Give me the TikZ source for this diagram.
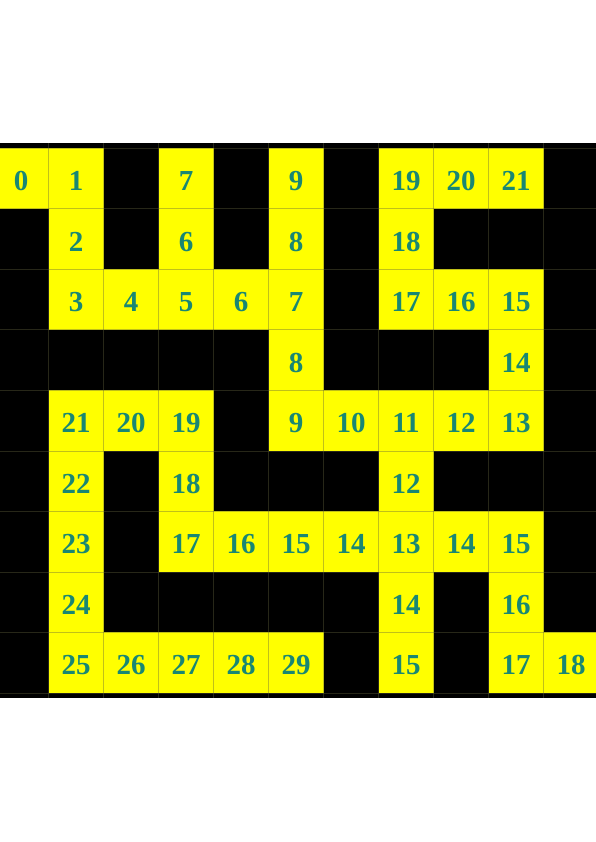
\documentclass[tikz,border=0pt]{standalone}
\usepackage{fontspec}
\setmainfont{Liberation Serif}
\definecolor{mazeyellow}{RGB}{255,255,0}
\definecolor{mazeteal}{RGB}{25,135,115}
\definecolor{mazeline}{RGB}{98,98,60}
\tikzset{
  cell/.style={fill=mazeyellow,minimum width=55pt,minimum height=60.5pt,inner sep=0pt,
    text=mazeteal,font=\bfseries\fontsize{29}{29}\selectfont,text height=24pt,text depth=0pt},
  gridline/.style={mazeline,opacity=0.4,line width=0.6pt}
}
\begin{document}
\begin{tikzpicture}[x=55pt,y=-60.5pt]
  \useasboundingbox (-21pt,178.55pt) rectangle (574pt,-663.45pt);
  \fill[black] (-0.6,-0.58) rectangle (10.6,8.58);
  % -1 is a wall
  \foreach \line [count=\r from 0] in {%
    {0,1,-1,7,-1,9,-1,19,20,21,-1},
    {-1,2,-1,6,-1,8,-1,18,-1,-1,-1},
    {-1,3,4,5,6,7,-1,17,16,15,-1},
    {-1,-1,-1,-1,-1,8,-1,-1,-1,14,-1},
    {-1,21,20,19,-1,9,10,11,12,13,-1},
    {-1,22,-1,18,-1,-1,-1,12,-1,-1,-1},
    {-1,23,-1,17,16,15,14,13,14,15,-1},
    {-1,24,-1,-1,-1,-1,-1,14,-1,16,-1},
    {-1,25,26,27,28,29,-1,15,-1,17,18}} {%
    \foreach \n [count=\c from 0] in \line {%
      \ifnum\n>-1
        \node[cell] (c\c-\r) at (\c,\r) {\n};
      \fi
    }
  }
  \foreach \x in {0,...,11} {%
    \draw[gridline] (\x-0.5,-0.58) -- (\x-0.5,8.58);
  }
  \foreach \y in {0,...,9} {%
    \draw[gridline] (-0.6,\y-0.5) -- (10.6,\y-0.5);
  }
\end{tikzpicture}
\end{document}
